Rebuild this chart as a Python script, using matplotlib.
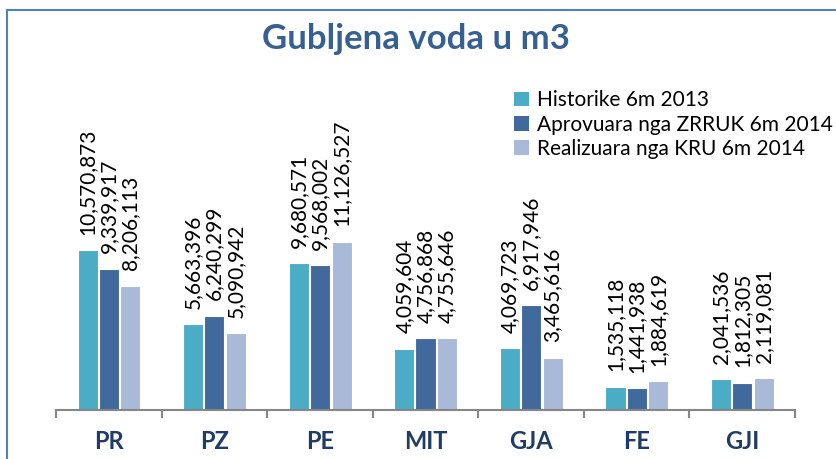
import numpy as np
import matplotlib
matplotlib.use("Agg")
import matplotlib.pyplot as plt
from matplotlib.lines import Line2D
from matplotlib.patches import Patch

plt.rcParams['font.family'] = ['Lato', 'DejaVu Sans']

categories = ["PR", "PZ", "PE", "MIT", "GJA", "FE", "GJI"]
series_names = ["Historike 6m 2013", "Aprovuara nga ZRRUK 6m 2014", "Realizuara nga KRU 6m 2014"]
historike = [10570873, 5663396, 9680571, 4059604, 4069723, 1535118, 2041536]
aprovuara = [9339917, 6240299, 9568002, 4756868, 6917946, 1441938, 1812305]
realizuara = [8206113, 5090942, 11126527, 4755646, 3465616, 1884619, 2119081]
colors = ["#4BACC6", "#41699B", "#A9B9D8"]

W, H = 837, 459
fig = plt.figure(figsize=(W / 100, H / 100), dpi=100)
ax = fig.add_axes([56 / W, 1 - 410 / H, (795 - 56) / W, 400 / H])

x = np.arange(len(categories))
offsets = [-0.2, 0.0, 0.205]
for vals, off, c, name in zip([historike, aprovuara, realizuara], offsets, colors, series_names):
    bars = ax.bar(x + off, vals, width=0.19, color=c, edgecolor="white", linewidth=0.8, label=name)
    for b, v in zip(bars, vals):
        ax.annotate(f"{v:,}", (b.get_x() + b.get_width() / 2, v), xytext=(0, 11),
                    textcoords="offset points", rotation=90, ha="center", va="bottom",
                    fontsize=15, color="black")

ax.set_xlim(-0.5, len(categories) - 0.5)
ax.set_ylim(0, 400 / 15.14 * 1e6)
for s in ["top", "right", "left"]:
    ax.spines[s].set_visible(False)
ax.spines["bottom"].set_color("#868686")
ax.spines["bottom"].set_linewidth(1.5)
ax.set_yticks([])
ax.set_xticks(np.arange(-0.5, len(categories)), minor=False)
ax.set_xticklabels([])
ax.tick_params(axis="x", length=6, width=1.5, color="#868686", direction="out")
for i, cat in enumerate(categories):
    ax.text(i, -0.078, cat, transform=ax.get_xaxis_transform(), ha="center", va="center",
            fontsize=17, fontweight="bold", color="#1F3B66")

fig.text(416 / W, 1 - 39 / H, "Gubljena voda u m3", ha="center", va="center",
         fontsize=25, fontweight="bold", color="#376092")

handles = [Patch(facecolor=c) for c in colors]
leg = fig.legend(handles, series_names, loc="upper left", bbox_to_anchor=(504 / W, 1 - 80 / H),
                 frameon=False, fontsize=15, handlelength=0.7, handleheight=0.7,
                 handletextpad=0.4, labelspacing=0.2, borderpad=0)

fig.add_artist(Line2D([7 / W, 7 / W], [0, 1 - 10 / H], color="#4F81BD", linewidth=1.5))
fig.add_artist(Line2D([7 / W, 1], [1 - 10 / H, 1 - 10 / H], color="#4F81BD", linewidth=1.5))

fig.savefig("out.png", dpi=100)
